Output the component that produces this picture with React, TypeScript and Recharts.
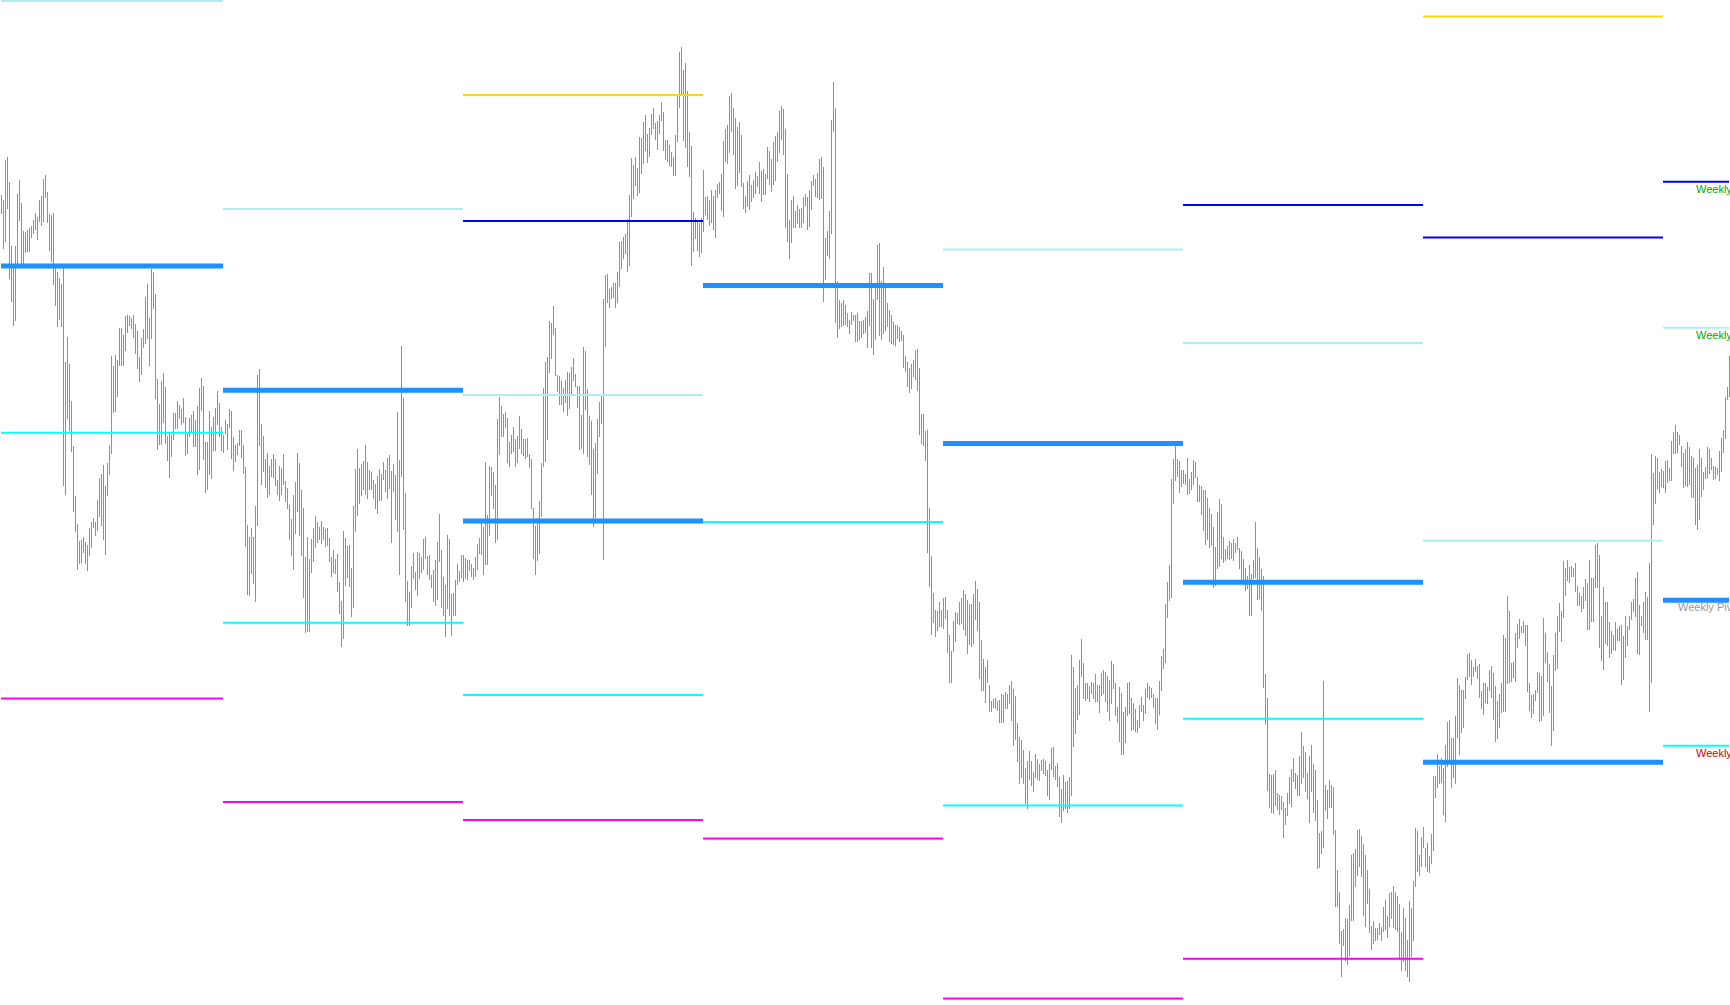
import React from 'react';
import { ComposedChart, Bar, Line, XAxis, YAxis, ReferenceLine } from 'recharts';

// H1 bars as [high, low] in price points, one array per trading week
const week1: [number, number][] = [
  [810,791],[805,756],[845,763],[848,796],[823,726],[759,703],[740,679],[759,684],[811,738],[825,784],
  [802,738],[774,741],[773,752],[775,753],[777,753],[779,767],[785,771],[792,775],[788,765],[805,783],
  [809,779],[826,783],[830,807],[813,782],[791,754],[790,743],[792,720],[739,699],[733,678],[727,685],
  [721,678],[737,519],[643,510],[668,586],[641,574],[604,553],[559,493],[509,473],[481,435],[464,441],
  [465,442],[468,452],[463,441],[460,434],[477,449],[483,457],[487,477],[483,469],[505,474],[527,488],
  [531,479],[540,465],[519,450],[542,509],[560,530],[649,551],[639,592],[650,593],[645,608],[677,639],
  [677,639],[670,639],[689,654],[690,672],[689,679],[687,676],[690,667],[681,651],[674,636],[648,623],
  [667,630],[676,657],[708,661],[721,666],[687,639],[736,666],[733,696],[711,606],[626,555],[601,560],
  [624,560],[632,582],[618,561],[569,544],[571,527],[570,548],[592,565],[592,576],[604,576],[600,586],
  [596,580],[607,582],[588,549],[571,551],[587,568],[590,572],[594,558],[585,558],[599,530],[617,535],
  [627,594],[619,545],[563,512],[563,515],[594,530],[578,526],[588,554],[597,554],[614,580],[602,568],
  [578,554],
];

const week2: [number, number][] = [
  [570,552],[585,571],[581,555],[596,577],[594,546],[568,534],[560,543],[562,550],[575,559],[575,547],
  [560,531],[538,458],[480,410],[468,409],[477,431],[468,421],[499,403],[630,479],[636,559],[581,520],
  [569,533],[546,517],[552,507],[539,510],[546,528],[551,527],[546,519],[525,510],[539,504],[537,510],
  [551,520],[524,503],[517,496],[500,465],[486,449],[510,435],[523,471],[552,493],[542,469],[515,449],
  [497,407],[448,372],[468,373],[446,373],[466,432],[477,443],[489,457],[483,462],[478,465],[484,461],
  [478,465],[476,458],[477,459],[467,443],[448,428],[455,432],[446,431],[451,413],[423,391],[404,358],
  [474,366],[467,419],[459,427],[460,418],[437,388],[499,397],[536,473],[556,489],[537,501],[541,509],
  [544,515],[560,510],[543,506],[535,515],[533,515],[525,506],[521,496],[529,491],[536,504],[531,504],
  [543,525],[535,513],[547,506],[550,516],[534,462],[541,513],[530,485],[593,473],[545,430],[659,528],
  [607,475],[512,403],[424,379],[413,379],[439,397],[452,426],[433,415],[453,409],[452,426],[448,432],
  [466,435],[468,446],[449,430],[450,425],[430,417],[435,403],[445,399],[463,405],[491,443],[455,397],
  [428,389],[420,368],[470,396],[466,389],[411,369],[412,389],[425,389],[441,420],[434,423],[450,427],
];

const week3: [number, number][] = [
  [450,423],[447,426],[445,425],[445,434],[441,428],[437,425],[448,428],[461,435],[467,451],[482,450],
  [478,430],[543,440],[490,440],[539,469],[538,509],[533,496],[520,462],[586,465],[608,550],[599,568],
  [591,568],[593,577],[587,542],[563,538],[570,551],[578,553],[566,538],[569,542],[589,556],[576,551],
  [566,549],[566,546],[567,548],[551,537],[546,496],[497,446],[479,430],[487,444],[504,451],[542,488],
  [617,538],[643,543],[648,565],[684,632],[682,646],[699,670],[677,629],[630,613],[629,600],[624,600],
  [617,593],[625,602],[633,589],[632,596],[638,609],[647,624],[631,618],[619,597],[619,555],[590,556],
  [658,551],[654,595],[616,548],[589,540],[584,510],[556,478],[562,487],[586,531],[603,568],[611,581],
  [706,445],[730,658],[731,702],[716,697],[718,706],[722,707],[722,697],[733,702],[763,718],[764,736],
  [768,746],[771,751],[786,733],[810,739],[847,788],[840,806],[848,819],[837,809],[868,812],[867,831],
  [883,841],[890,854],[871,842],[877,848],[891,870],[897,876],[882,865],[884,855],[890,871],[903,884],
  [893,854],[865,845],[865,843],[860,839],[853,838],[848,829],[870,829],[911,863],[953,897],[958,911],
  [935,864],[942,857],[914,838],[873,828],[859,739],[793,753],[787,766],[785,754],[782,748],[787,752],
];

const week4: [number, number][] = [
  [835,773],[808,790],[809,785],[805,779],[815,782],[809,775],[815,767],[821,807],[823,811],[831,794],
  [864,788],[876,843],[880,841],[909,852],[912,873],[897,850],[887,816],[878,819],[883,832],[870,818],
  [822,796],[809,792],[824,798],[830,795],[820,803],[825,807],[833,811],[829,818],[843,811],[834,803],
  [836,810],[831,810],[858,826],[854,820],[846,813],[863,820],[869,824],[873,843],[894,852],[899,865],
  [896,850],[876,777],[831,763],[785,746],[805,762],[809,777],[794,777],[800,781],[796,777],[797,777],
  [808,782],[811,799],[808,775],[815,778],[824,795],[830,819],[826,808],[832,807],[846,805],[848,806],
  [838,703],[767,725],[774,749],[794,746],[885,771],[923,873],[897,682],[724,667],[705,676],[702,678],
  [705,679],[700,680],[692,678],[685,671],[693,680],[690,684],[690,663],[692,663],[684,665],[684,667],
  [685,671],[688,672],[694,657],[732,679],[732,657],[706,650],[718,665],[760,705],[762,669],[724,665],
  [738,671],[718,674],[702,678],[695,663],[690,661],[683,660],[680,659],[680,666],[678,663],[674,664],
  [670,637],[649,633],[643,618],[637,612],[641,616],[645,628],[655,625],[656,614],[637,570],[591,561],
  [591,559],[574,544],[575,452],[497,418],[449,370],[412,382],[395,368],[394,374],[403,378],[395,378],
];

const week5: [number, number][] = [
  [407,376],[408,386],[395,352],[370,322],[354,322],[384,353],[393,363],[392,381],[403,380],[407,381],
  [415,375],[411,369],[405,351],[401,360],[401,358],[411,361],[424,385],[416,374],[403,326],[365,314],
  [346,314],[338,302],[345,322],[320,293],[304,293],[306,297],[307,296],[304,294],[305,282],[311,282],
  [310,282],[313,296],[311,296],[320,301],[324,284],[316,259],[309,265],[282,243],[268,221],[265,227],
  [255,221],[237,201],[244,196],[254,225],[244,219],[233,213],[251,227],[246,225],[241,224],[245,234],
  [246,231],[244,229],[235,209],[241,205],[257,235],[258,228],[239,225],[242,218],[228,188],[216,182],
  [230,194],[223,196],[224,192],[228,196],[350,209],[338,258],[317,271],[320,285],[345,290],[366,328],
  [342,306],[322,304],[322,306],[319,303],[323,311],[322,306],[331,303],[320,303],[320,292],[332,309],
  [335,311],[333,303],[329,293],[325,284],[344,301],[341,316],[322,289],[298,282],[318,263],[312,250],
  [293,250],[298,262],[322,289],[323,291],[307,274],[302,275],[296,273],[285,272],[300,277],[308,293],
  [300,284],[316,291],[322,307],[319,305],[317,307],[311,297],[307,281],[307,275],[324,290],[349,314],
  [356,336],[401,342],[423,387],[440,404],[526,407],[546,501],[559,524],[546,528],[544,512],[535,518],
];

const week6: [number, number][] = [
  [535,521],[531,520],[547,510],[526,511],[533,515],[545,520],[543,527],[528,503],[520,503],[519,490],
  [515,474],[515,460],[507,465],[497,457],[491,459],[478,417],[458,419],[493,436],[506,438],[501,446],
  [468,442],[456,444],[459,446],[464,445],[462,446],[466,444],[462,452],[468,455],[457,436],[454,424],
  [446,420],[437,414],[429,416],[440,389],[431,389],[445,426],[483,427],[457,405],[448,406],[436,394],
  [429,317],[331,280],[307,214],[231,197],[230,192],[231,191],[235,199],[212,195],[210,190],[209,195],
  [203,167],[197,180],[212,189],[228,201],[236,198],[247,223],[232,216],[230,209],[249,209],[273,221],
  [259,227],[253,213],[232,206],[249,182],[260,213],[241,192],[235,184],[205,136],[172,137],[174,151],
  [324,157],[220,194],[215,186],[225,197],[220,197],[218,170],[175,98],[135,98],[113,61],[74,28],
  [76,59],[87,44],[86,40],[100,49],[150,84],[152,84],[156,118],[175,129],[176,138],[169,128],
  [161,89],[150,78],[135,101],[116,72],[79,55],[84,61],[77,64],[77,65],[82,70],[78,64],
  [98,73],[105,75],[89,67],[112,78],[113,86],[119,77],[113,75],[109,73],[101,47],[73,34],
  [97,43],[87,34],[65,28],[104,23],[97,48],[124,64],[177,118],[174,133],[150,129],[168,138],
];

const week7: [number, number][] = [
  [178,157],[157,138],[162,133],[149,132],[171,141],[229,154],[229,207],[251,217],[239,221],[247,222],
  [237,190],[260,183],[283,238],[285,243],[267,217],[267,227],[289,221],[327,267],[320,250],[315,272],
  [315,277],[328,306],[351,325],[352,328],[345,320],[338,328],[346,333],[339,326],[341,307],[314,296],
  [322,290],[322,302],[318,301],[335,314],[339,307],[332,285],[319,263],[304,266],[311,277],[322,292],
  [370,293],[367,293],[409,321],[394,322],[342,323],[343,327],[372,323],[381,357],[386,366],[379,372],
  [384,372],[380,359],[380,313],[322,294],[310,287],[311,291],[315,304],[333,312],[332,283],[329,284],
  [387,289],[372,342],[353,323],[341,292],[319,259],[350,274],[372,334],[389,336],[402,373],[394,363],
  [444,387],[437,409],[445,424],[438,422],[439,428],[437,428],[442,413],[419,399],[412,399],[409,393],
  [418,396],[426,404],[422,375],[445,375],[427,383],[427,383],[460,417],[462,417],[450,357],[389,344],
  [418,335],[403,361],[403,359],[383,347],[374,351],[370,355],[383,354],[376,364],[379,364],[380,320],
  [369,325],[389,347],[379,359],[389,375],[403,385],[406,393],[427,388],[433,351],[400,350],[389,379],
  [403,372],[413,365],[408,365],[442,293],[551,322],[532,480],[549,501],[547,516],[533,512],[536,518],
];

const week8: [number, number][] = [
  [534,517],[544,512],[545,522],[537,524],[564,524],[573,551],[580,551],[573,552],[570,560],[559,538],
  [552,517],[556,519],[563,518],[558,520],[549,507],[547,507],[537,480],[540,475],[556,485],[547,508],
  [533,515],[538,526],[558,527],[556,531],[547,535],[539,525],[538,526],[537,530],[554,524],[567,533],
  [575,552],[608,566],[618,605],[649,608],
];

// weekly pivot levels (null = off the visible price range)
const weeklyR3 = [null, null, 910, null, null, null, 988.5, null];
const weeklyR2 = [null, null, 784, null, null, 800, 767.5, 823.3];
const weeklyR1 = [1004, 796, 610, null, 755.6, 662, 464.3, 677.3];
const weeklyPivot = [739, 614.7, 484, 719.5, 561.5, 422.7, 242.7, 404.7];
const weeklyS1 = [572.3, 382.3, 310, 483, 199.6, 286.3, null, 259.3];
const weeklyS2 = [306.6, 203, 185, 166.5, 6.5, 46.3, null, null];

const weeks = [week1, week2, week3, week4, week5, week6, week7, week8];

const levels = [
  { key: 'r3', values: weeklyR3, color: '#ffd700', width: 2 },
  { key: 'r2', values: weeklyR2, color: '#0000ff', width: 2 },
  { key: 'r1', values: weeklyR1, color: '#afeeee', width: 2 },
  { key: 's1', values: weeklyS1, color: '#00ffff', width: 2 },
  { key: 's2', values: weeklyS2, color: '#ff00ff', width: 2 },
  { key: 'pp', values: weeklyPivot, color: '#1e90ff', width: 5 },
];

// even/odd weeks get their own keys so consecutive weeks don't get joined
const rows: any[] = [];
weeks.forEach((bars, w) => {
  bars.forEach(([hi, lo], j) => {
    const row: any = { i: rows.length, range: [lo, hi] };
    levels.forEach((l) => {
      row[l.key + (w % 2)] = l.values[w];
      if (j === 0 && w > 0) row[l.key + ((w - 1) % 2)] = l.values[w - 1];
    });
    rows.push(row);
  });
});

const HiLoBar = (props: any) => {
  const { x, y, width, height } = props;
  if (x == null || y == null) return null;
  const cx = Math.floor(x + width / 2 + 0.01);
  const top = Math.min(y, y + height);
  return (
    <rect x={cx} y={top} width={1} height={Math.max(1, Math.abs(height))}
      fill="#22dd22" shapeRendering="crispEdges" />
  );
};

const EdgeLabel = (props: any) => {
  const { viewBox, text, color, dx } = props;
  if (!viewBox) return null;
  return (
    <text x={viewBox.x + viewBox.width + dx} y={viewBox.y + 11} fill={color}
      fontSize={11} fontFamily="'Liberation Sans', Arial, sans-serif">
      {text}
    </text>
  );
};

const App = () => {
  const last = weeks.length - 1;
  return (
    <div style={{ position: 'absolute', left: 0, top: 0, width: 1730, height: 1005, overflow: 'hidden', background: '#fff' }}>
      <ComposedChart width={1730} height={1005} data={rows}
        margin={{ top: 0, right: 0, bottom: 0, left: 0 }} barCategoryGap={0}>
        <XAxis dataKey="i" hide />
        <YAxis hide type="number" domain={[0, 1005]} allowDataOverflow />
        <Bar dataKey="range" shape={<HiLoBar />} isAnimationActive={false} />
        {levels.map((l) =>
          [0, 1].map((p) => (
            <Line key={l.key + p} dataKey={l.key + p} stroke={l.color} strokeWidth={l.width}
              dot={false} activeDot={false} connectNulls={false} isAnimationActive={false} />
          ))
        )}
        <ReferenceLine y={weeklyR2[last]} stroke="none" ifOverflow="visible"
          label={<EdgeLabel text="Weekly R2" color="#00a800" dx={-34} />} />
        <ReferenceLine y={weeklyR1[last]} stroke="none" ifOverflow="visible"
          label={<EdgeLabel text="Weekly R1" color="#00a800" dx={-34} />} />
        <ReferenceLine y={weeklyPivot[last]} stroke="none" ifOverflow="visible"
          label={<EdgeLabel text="Weekly Pivot" color="#999999" dx={-52} />} />
        <ReferenceLine y={weeklyS1[last]} stroke="none" ifOverflow="visible"
          label={<EdgeLabel text="Weekly S1" color="#cc0000" dx={-34} />} />
      </ComposedChart>
    </div>
  );
};

export default App;
